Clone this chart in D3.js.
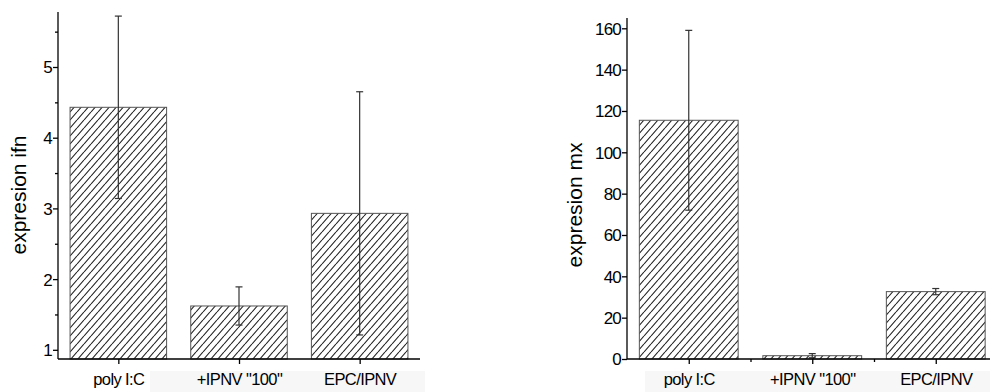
<!doctype html>
<html>
<head>
  <script src="https://d3js.org/d3.v7.min.js"></script>
</head>
<body style="margin:0px;background:#fff">
<script>

var w = 990, h = 392;

// data
var categories = ["poly I:C", "+IPNV \"100\"", "EPC/IPNV"];
var ifnMean = [4.43, 1.62, 2.93];
var ifnErr  = [1.29, 0.27, 1.72];
var mxMean  = [115.5, 1.6, 32.6];
var mxErr   = [43.5, 1.0, 1.5];
var ifnTicks = [1, 2, 3, 4, 5];
var mxTicks  = [0, 20, 40, 60, 80, 100, 120, 140, 160];

var font = "'Liberation Sans', Arial, sans-serif";
var svg = d3.select("body").append("svg").attr("width", w).attr("height", h)
  .style("font-family", font);

// hatch pattern
var pat = svg.append("defs").append("pattern")
  .attr("id", "hatch")
  .attr("patternUnits", "userSpaceOnUse")
  .attr("width", 7).attr("height", 8);
pat.append("rect").attr("width", 7).attr("height", 8).attr("fill", "#fff");
pat.append("path")
  .attr("d", "M0,8 L7,0 M-7,8 L0,0 M7,8 L14,0")
  .attr("stroke", "#222").attr("stroke-width", 1.1);

// light label band, as in the scan
svg.append("rect").attr("x", 150).attr("y", 371).attr("width", 275).attr("height", 21).attr("fill", "#f7f7f7");
svg.append("rect").attr("x", 645).attr("y", 371).attr("width", 345).attr("height", 21).attr("fill", "#f7f7f7");

function panel(opt) {
  var g = svg.append("g");
  var x = d3.scaleLinear().domain([0.5, 3.5]).range([opt.x0, opt.x1]);
  var y = d3.scaleLinear().domain(opt.ydom).range([opt.y0, opt.y1]);
  var bw = (x(1) - x(0)) * 0.8;

  // bars
  g.selectAll("rect.bar").data(opt.mean).enter().append("rect")
    .attr("class", "bar")
    .attr("x", function(d, i) { return x(i + 1) - bw / 2; })
    .attr("y", function(d) { return y(d); })
    .attr("width", bw)
    .attr("height", function(d) { return opt.y0 - y(d); })
    .attr("fill", "url(#hatch)")
    .attr("stroke", "#555").attr("stroke-width", 1);

  // error bars
  var eb = g.selectAll("g.err").data(opt.mean).enter().append("g").attr("class", "err")
    .attr("stroke", "#333").attr("stroke-width", 1.2);
  eb.append("line")
    .attr("x1", function(d, i) { return x(i + 1); })
    .attr("x2", function(d, i) { return x(i + 1); })
    .attr("y1", function(d, i) { return y(d + opt.err[i]); })
    .attr("y2", function(d, i) { return y(d - opt.err[i]); });
  [1, -1].forEach(function(s) {
    eb.append("line")
      .attr("x1", function(d, i) { return x(i + 1) - 3.5; })
      .attr("x2", function(d, i) { return x(i + 1) + 3.5; })
      .attr("y1", function(d, i) { return y(d + s * opt.err[i]); })
      .attr("y2", function(d, i) { return y(d + s * opt.err[i]); });
  });

  // y axis
  var ya = g.append("g").attr("transform", "translate(" + opt.x0 + ",0)")
    .call(d3.axisLeft(y).tickValues(opt.ticks).tickSize(5).tickPadding(1).tickFormat(d3.format("d")));
  if (opt.minor) {
    g.append("g").attr("transform", "translate(" + opt.x0 + ",0)")
      .call(d3.axisLeft(y).tickValues(opt.minor).tickSize(3).tickFormat(""))
      .select(".domain").remove();
  }
  ya.select(".domain").attr("d", "M0," + opt.y0 + "V" + opt.ytop);
  ya.selectAll(".tick text").attr("font-size", 17).attr("letter-spacing", -0.8).attr("dy", "0.35em");

  // x axis
  var xa = g.append("g").attr("transform", "translate(0," + opt.y0 + ")")
    .call(d3.axisBottom(x).tickValues([1, 2, 3]).tickSize(5).tickPadding(9)
      .tickFormat(function(d) { return categories[d - 1]; }));
  xa.select(".domain").attr("d", "M" + opt.x0 + ",0H" + Math.min(opt.x1, w));
  xa.selectAll(".tick text").attr("font-size", 16.5).attr("letter-spacing", -0.6);
  if (opt.xminor) {
    g.append("g").attr("transform", "translate(0," + opt.y0 + ")")
      .call(d3.axisBottom(x).tickValues(opt.xminor).tickSize(3).tickFormat(""))
      .select(".domain").remove();
  }

  g.selectAll(".tick text").attr("fill", "#000").style("font-family", font);
  g.selectAll(".domain, .tick line").attr("stroke", "#000").attr("stroke-width", 1.3);

  g.append("text")
    .attr("transform", "translate(" + opt.lx + "," + opt.ly + ") rotate(-90)")
    .attr("text-anchor", "middle")
    .attr("font-size", 21)
    .text(opt.label);
}

panel({
  x0: 58, x1: 420, y0: 359, y1: 67, ydom: [0.87, 5], ytop: 12,
  mean: ifnMean, err: ifnErr, ticks: ifnTicks,
  minor: [1.5, 2.5, 3.5, 4.5, 5.5],
  lx: 26, ly: 195, label: "expresion ifn"
});

panel({
  x0: 627, x1: 997.5, y0: 359, y1: 28.3, ydom: [0, 160], ytop: 18,
  mean: mxMean, err: mxErr, ticks: mxTicks,
  xminor: [1.5, 2.5],
  lx: 582, ly: 205, label: "expresion mx"
});

</script>
</body>
</html>
